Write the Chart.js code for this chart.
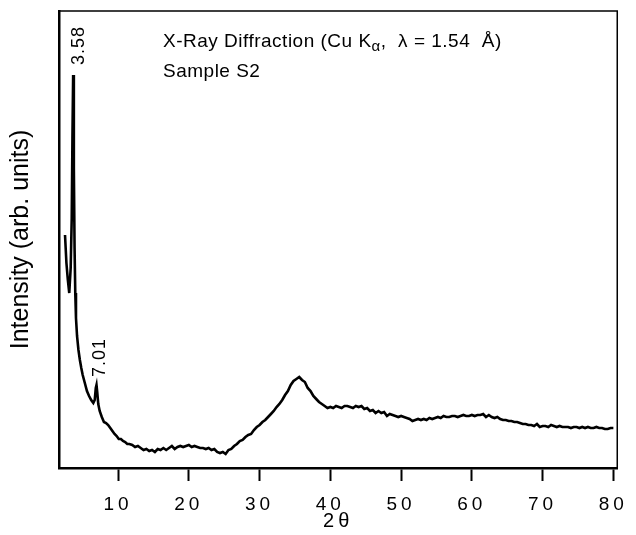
<!DOCTYPE html>
<html>
<head>
<meta charset="utf-8">
<script src="https://cdn.jsdelivr.net/npm/chart.js@4/dist/chart.umd.min.js"></script>
<style>
  html, body { margin: 0; padding: 0; background: #fff; }
  #wrap { width: 636px; height: 535px; position: relative; }
</style>
</head>
<body>
<div id="wrap"><canvas id="c" width="636" height="535"></canvas></div>
<script>
// 2θ (degrees)
const twoTheta = [
  2.5, 2.7, 2.9, 3.1, 3.3, 3.45, 3.55, 3.65, 3.75, 3.85, 3.95, 4.05, 4.2, 4.4, 4.6, 4.8,
  5.0, 5.3, 5.6, 5.9, 6.2, 6.5, 6.7, 6.85, 6.95, 7.05, 7.2, 7.4, 7.7, 8.0, 8.3, 8.6, 8.9,
  9.2, 9.5, 9.8, 10.1, 10.4, 10.7, 11.0, 11.3, 11.6, 12.0, 12.4, 12.8, 13.2, 13.6, 14.0,
  14.4, 14.8, 15.2, 15.6, 16.0, 16.4, 16.8, 17.2, 17.6, 18.0, 18.4, 18.8, 19.2, 19.6, 20.0,
  20.4, 20.8, 21.2, 21.6, 22.0, 22.4, 22.8, 23.2, 23.6, 24.0, 24.4, 24.8, 25.2, 25.6, 26.0,
  26.4, 26.8, 27.2, 27.6, 28.0, 28.4, 28.8, 29.2, 29.6, 30.0, 30.4, 30.8, 31.2, 31.6, 32.0,
  32.4, 32.8, 33.2, 33.6, 34.0, 34.4, 34.8, 35.2, 35.6, 36.0, 36.4, 36.8, 37.2, 37.6, 38.0,
  38.4, 38.8, 39.2, 39.6, 40.0, 40.4, 40.8, 41.2, 41.6, 42.0, 42.4, 42.8, 43.2, 43.6, 44.0,
  44.4, 44.8, 45.2, 45.6, 46.0, 46.4, 46.8, 47.2, 47.6, 48.0, 48.4, 48.8, 49.2, 49.6, 50.0,
  50.4, 50.8, 51.2, 51.6, 52.0, 52.4, 52.8, 53.2, 53.6, 54.0, 54.4, 54.8, 55.2, 55.6, 56.0,
  56.4, 56.8, 57.2, 57.6, 58.0, 58.4, 58.8, 59.2, 59.6, 60.0, 60.4, 60.8, 61.2, 61.6, 62.0,
  62.4, 62.8, 63.2, 63.6, 64.0, 64.4, 64.8, 65.2, 65.6, 66.0, 66.4, 66.8, 67.2, 67.6, 68.0,
  68.4, 68.8, 69.2, 69.6, 70.0, 70.4, 70.8, 71.2, 71.6, 72.0, 72.4, 72.8, 73.2, 73.6, 74.0,
  74.4, 74.8, 75.2, 75.6, 76.0, 76.4, 76.8, 77.2, 77.6, 78.0, 78.4, 78.8, 79.2, 79.6, 80.0
];
// Intensity (arb. units)
const intensity = [
  233, 205, 188, 175, 200, 250, 330, 393, 300, 220, 175, 150, 132, 118, 108, 100,
  93, 85, 77, 72, 68, 65, 68, 80, 83, 76, 64, 57, 51, 46, 45, 43, 40,
  37, 34, 32, 29, 29, 27, 26, 24, 24, 23, 21, 22, 20, 18, 19,
  17, 18, 16, 19, 18, 20, 18, 20, 22, 19, 21, 22, 21, 22, 23,
  21, 22, 21, 20, 20, 19, 20, 18, 19, 16, 15, 16, 14, 18, 19,
  22, 24, 27, 28, 31, 33, 34, 38, 41, 43, 46, 48, 51, 54, 57,
  61, 64, 68, 73, 77, 83, 87, 89, 91, 88, 86, 80, 77, 72, 69,
  66, 64, 62, 60, 61, 60, 62, 61, 60, 62, 62, 61, 60, 62, 61,
  62, 59, 60, 57, 58, 55, 57, 55, 56, 52, 54, 53, 52, 51, 52,
  51, 50, 49, 47, 48, 49, 48, 49, 48, 50, 49, 50, 51, 50, 52,
  51, 51, 52, 52, 51, 52, 53, 52, 52, 53, 52, 53, 53, 54, 51,
  53, 51, 50, 51, 49, 48, 48, 47, 47, 46, 46, 45, 44, 44, 43,
  43, 42, 44, 41, 42, 42, 41, 43, 42, 41, 42, 41, 41, 41, 40,
  41, 41, 40, 41, 40, 41, 40, 40, 41, 40, 40, 39, 39, 40, 40
];
const xTicks = [10, 20, 30, 40, 50, 60, 70, 80];
const peakLabels = ["3.58", "7.01"];
const peakPositions = [3.65, 6.95];   // 2θ of the labelled peaks
const peakHeights = [393, 83];

const FONT = '"Liberation Sans", Arial, Helvetica, sans-serif';

const points = twoTheta.map((x, i) => ({ x: x, y: intensity[i] }));

const framePlugin = {
  id: 'frame',
  afterDatasetsDraw(chart) {
    const { ctx, chartArea: a } = chart;
    ctx.save();
    ctx.strokeStyle = '#000';
    ctx.lineWidth = 1.5;
    ctx.beginPath();
    ctx.moveTo(a.left, a.top);
    ctx.lineTo(a.right, a.top);
    ctx.lineTo(a.right, a.bottom);
    ctx.stroke();
    ctx.restore();
    // wide spacing for the x tick labels and x title, drawn in a later layer
    ctx.letterSpacing = '4px';
  },
  afterDraw(chart) {
    const { ctx, scales } = chart;
    ctx.letterSpacing = '0px';
    ctx.save();
    ctx.fillStyle = '#000';
    ctx.textBaseline = 'middle';
    ctx.textAlign = 'left';
    ctx.letterSpacing = '0.5px';
    // title lines
    const tx = 163, ty = 42;
    ctx.font = '19px ' + FONT;
    let s1 = 'X-Ray Diffraction (Cu K';
    ctx.fillText(s1, tx, ty);
    let w = ctx.measureText(s1).width;
    ctx.font = '15px ' + FONT;
    ctx.fillText('α', tx + w, ty + 5);
    w += ctx.measureText('α').width;
    ctx.font = '19px ' + FONT;
    ctx.fillText(',  λ = 1.54  Å)', tx + w, ty);
    ctx.fillText('Sample S2', tx, 72);
    // peak labels (rotated)
    ctx.font = '18px ' + FONT;
    ctx.letterSpacing = '1px';
    const offs = [[6, 10], [4, 8]];
    peakLabels.forEach((lab, i) => {
      const px = scales.x.getPixelForValue(peakPositions[i]) + offs[i][0];
      const py = scales.y.getPixelForValue(peakHeights[i]) - offs[i][1];
      ctx.save();
      ctx.translate(px, py);
      ctx.rotate(-Math.PI / 2);
      ctx.textAlign = 'left';
      ctx.textBaseline = 'middle';
      ctx.fillText(lab, 0, 0);
      ctx.restore();
    });
    ctx.letterSpacing = '0px';
    ctx.restore();
  }
};

new Chart(document.getElementById('c'), {
  type: 'line',
  data: {
    datasets: [{
      data: points,
      borderColor: '#000',
      borderWidth: 2.6,
      pointRadius: 0,
      tension: 0,
      fill: false
    }]
  },
  options: {
    responsive: false,
    animation: false,
    events: [],
    layout: { padding: { top: 11, right: 10, left: 0, bottom: 0 } },
    plugins: { legend: { display: false }, tooltip: { enabled: false } },
    scales: {
      x: {
        type: 'linear',
        min: 1.65,
        max: 80.55,
        afterBuildTicks(scale) { scale.ticks = xTicks.map(v => ({ value: v })); },
        afterFit(scale) { scale.height = 67; },
        grid: {
          z: 1,
          display: true,
          drawOnChartArea: false,
          drawTicks: true,
          tickLength: 13,
          tickWidth: 2,
          tickColor: '#000'
        },
        border: { z: 1, display: true, color: '#000', width: 2.5 },
        ticks: {
          z: 1,
          color: '#000',
          padding: 12,
          maxRotation: 0,
          autoSkip: false,
          font: { family: FONT, size: 19 }
        },
        title: {
          display: true,
          text: '2θ',
          color: '#000',
          font: { family: FONT, size: 20 },
          padding: { top: 0, bottom: 2 }
        }
      },
      y: {
        type: 'linear',
        min: 0,
        max: 457,
        afterFit(scale) { scale.width = 59; },
        grid: { display: false },
        border: { display: true, color: '#000', width: 2.5 },
        ticks: { display: false },
        title: {
          display: true,
          text: 'Intensity (arb. units)',
          color: '#000',
          font: { family: FONT, size: 25 },
          padding: { top: 6, bottom: 10 }
        }
      }
    }
  },
  plugins: [framePlugin]
});
</script>
</body>
</html>
